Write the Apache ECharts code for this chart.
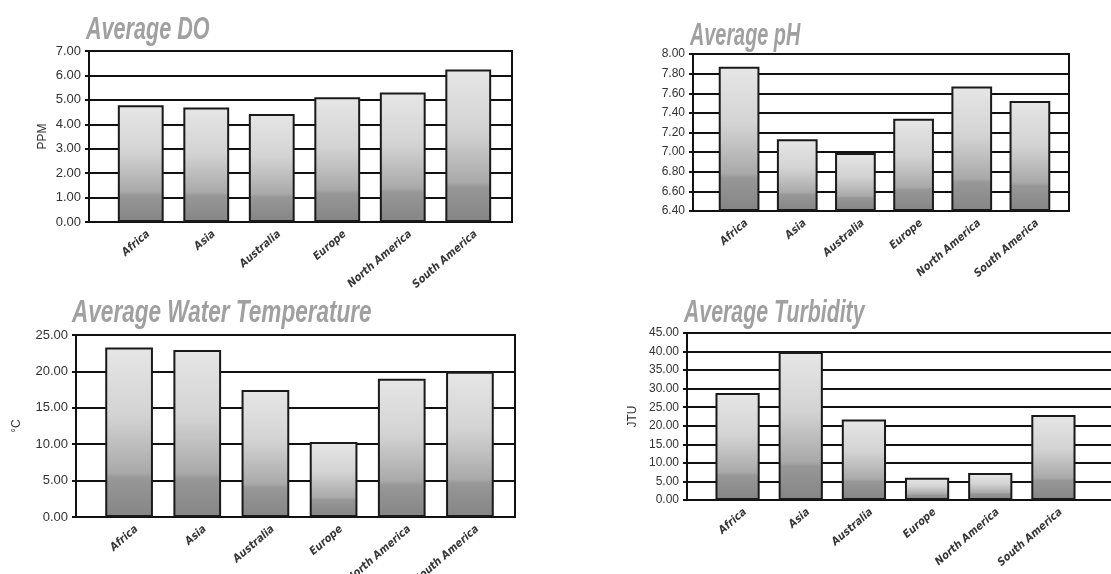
<!DOCTYPE html>
<html>
<head>
<meta charset="utf-8">
<title>Water quality by continent</title>
<script src="https://cdn.jsdelivr.net/npm/echarts@6/dist/echarts.min.js"></script>
<style>
  html, body { margin: 0; padding: 0; background: #fff; }
  #main { width: 1111px; height: 574px; }
</style>
</head>
<body>
<div id="main"></div>
<script>
// data
var categories = ['Africa', 'Asia', 'Australia', 'Europe', 'North America', 'South America'];
var doValues = [4.78, 4.69, 4.42, 5.11, 5.30, 6.24];
var phValues = [7.87, 7.13, 6.99, 7.34, 7.67, 7.52];
var tempValues = [23.3, 22.95, 17.45, 10.3, 19.0, 19.95];
var turbidityValues = [28.8, 39.9, 21.7, 6.0, 7.3, 22.9];

var titles = ['Average DO', 'Average pH', 'Average Water Temperature', 'Average Turbidity'];
var axisNames = ['PPM', '', '°C', 'JTU'];

// panel layout: frame box + narrower band where the bars sit
var panels = [
  { data: doValues, min: 0, max: 7, interval: 1, box: [89, 51, 423, 171], bars: [108, 393], gap: 40, labelSize: 13, titlePos: [86, 14], squeeze: 0.675 },
  { data: phValues, min: 6.4, max: 8, interval: 0.2, box: [693, 54, 376, 157], bars: [710, 349], gap: 0, labelSize: 12, titlePos: [690, 20], squeeze: 0.62 },
  { data: tempValues, min: 0, max: 25, interval: 5, box: [76, 335, 439, 182], bars: [95, 409], gap: 53, labelSize: 13, titlePos: [72, 297], squeeze: 0.705 },
  { data: turbidityValues, min: 0, max: 45, interval: 5, box: [687, 333, 440, 167], bars: [706, 379], gap: 48, labelSize: 12, titlePos: [684, 297], squeeze: 0.665 }
];

var barFill = new echarts.graphic.LinearGradient(0, 0, 0, 1, [
  { offset: 0, color: '#e6e6e6' },
  { offset: 0.4, color: '#d3d3d3' },
  { offset: 0.74, color: '#a9a9a9' },
  { offset: 0.77, color: '#979797' },
  { offset: 1, color: '#858585' }
]);

var handFont = '"DejaVu Sans Condensed", "Liberation Sans", sans-serif';

var grid = [], xAxis = [], yAxis = [], series = [], graphic = [];

panels.forEach(function (p, i) {
  var a = i * 2, b = i * 2 + 1;
  // frame + gridlines
  grid.push({ left: p.box[0], top: p.box[1], width: p.box[2], height: p.box[3],
    outerBoundsMode: 'none',
    show: true, borderColor: '#111', borderWidth: 2, backgroundColor: 'transparent' });
  // bars
  grid.push({ left: p.bars[0], top: p.box[1], width: p.bars[1], height: p.box[3],
    outerBoundsMode: 'none' });

  xAxis.push({ gridIndex: a, type: 'value', show: false });
  xAxis.push({
    gridIndex: b, type: 'category', data: categories,
    axisLine: { show: false }, axisTick: { show: false },
    axisLabel: {
      interval: 0, rotate: 41, margin: 2, verticalAlign: 'top', padding: [6, 0, 0, 0],
      fontFamily: handFont, fontWeight: 'bold', fontStyle: 'italic',
      fontSize: 11, color: '#363636'
    }
  });

  yAxis.push({
    gridIndex: a, type: 'value', min: p.min, max: p.max, interval: p.interval,
    name: axisNames[i], nameLocation: 'middle', nameRotate: 90, nameGap: p.gap,
    nameTextStyle: { fontFamily: 'Liberation Sans', fontSize: 12, color: '#333' },
    axisLine: { show: true, lineStyle: { color: '#111', width: 2 } },
    axisTick: { show: true, length: 4, lineStyle: { color: '#111', width: 2 } },
    axisLabel: {
      margin: 8, fontFamily: 'Liberation Sans', fontSize: p.labelSize, color: '#333',
      formatter: function (v) { return v.toFixed(2); }
    },
    splitLine: { show: true, lineStyle: { color: '#111', width: 2 } }
  });
  yAxis.push({ gridIndex: b, type: 'value', min: p.min, max: p.max, startValue: p.min, show: false });

  series.push({
    type: 'bar', xAxisIndex: b, yAxisIndex: b, data: p.data,
    barCategoryGap: '30%', silent: true,
    itemStyle: { color: barFill, borderColor: '#1a1a1a', borderWidth: 2 }
  });

  // chart titles, squeezed sideways like the condensed display face
  graphic.push({
    type: 'text', x: p.titlePos[0], y: p.titlePos[1], scaleX: p.squeeze, silent: true,
    style: {
      text: titles[i], fill: '#a0a0a0', textVerticalAlign: 'top',
      font: 'italic bold 32px "Liberation Sans", sans-serif'
    }
  });
});

var myChart = echarts.init(document.getElementById('main'));
myChart.setOption({
  animation: false,
  backgroundColor: '#fff',
  graphic: graphic,
  grid: grid,
  xAxis: xAxis,
  yAxis: yAxis,
  series: series
});
</script>
</body>
</html>
